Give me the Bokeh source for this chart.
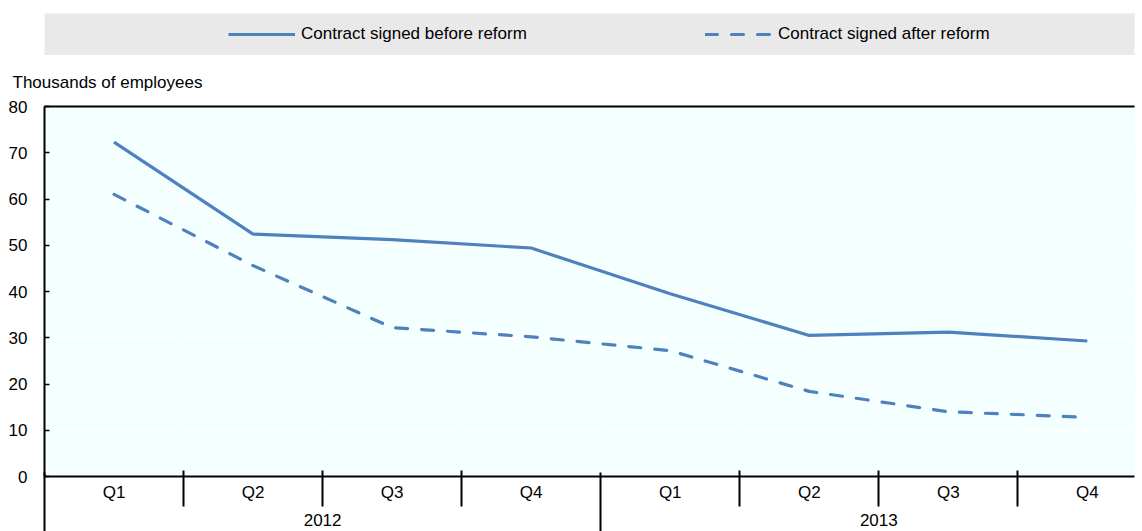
from bokeh.plotting import figure
from bokeh.models import (Range1d, LinearAxis, FixedTicker, Grid, Legend, LegendItem, Title)
from bokeh.layouts import column
from bokeh.embed import file_html
from bokeh.resources import INLINE

quarters = ["Q1", "Q2", "Q3", "Q4", "Q1", "Q2", "Q3", "Q4"]
years = ["2012", "2013"]
before_reform = [72.3, 52.4, 51.2, 49.4, 39.5, 30.5, 31.2, 29.3]
after_reform = [61.0, 45.6, 32.2, 30.2, 27.2, 18.4, 14.0, 12.8]
y_ticks = [0, 10, 20, 30, 40, 50, 60, 70, 80]

FONT = "'Liberation Sans', Arial, sans-serif"
FS = "17px"
BLUE = "#4F81BD"

n = len(quarters)
centers = [i + 0.5 for i in range(n)]
per_year = n // len(years)
quarter_bounds = [float(i) for i in range(1, n) if i % per_year != 0]
year_centers = [per_year * k + per_year / 2 for k in range(len(years))]
year_bounds = [float(per_year * k) for k in range(len(years))]

# ---------------- legend band ----------------
p0 = figure(width=1142, height=55, x_range=Range1d(0, 1), y_range=Range1d(0, 1),
            x_axis_type=None, y_axis_type=None, output_backend="svg",
            toolbar_location=None, min_border=0, min_border_left=44, min_border_right=8,
            min_border_top=13, min_border_bottom=0)
p0.background_fill_color = "#E9E9E9"
p0.outline_line_color = None
r_b = p0.line(centers, before_reform, line_color=BLUE, line_width=3.2, visible=False)
r_a = p0.line(centers, after_reform, line_color=BLUE, line_width=3.2,
              line_dash="12 14", line_cap="round", visible=False)
legend = Legend(items=[LegendItem(label="Contract signed before reform", renderers=[r_b]),
                       LegendItem(label="Contract signed after reform", renderers=[r_a])],
                location=(184, 11), orientation="horizontal", padding=0, spacing=4,
                glyph_width=67, glyph_height=20, label_standoff=6, label_width=400,
                label_height=20, background_fill_alpha=0, border_line_color=None,
                label_text_font=FONT, label_text_font_size=FS, label_text_color="#000000")
p0.add_layout(legend)

# ---------------- main plot ----------------
p = figure(width=1142, height=476, x_range=Range1d(0, 7.839), y_range=Range1d(0, 80),
           x_axis_type=None, y_axis_type=None, output_backend="svg",
           toolbar_location=None, min_border=0, min_border_left=44, min_border_right=0,
           min_border_top=50, min_border_bottom=55)
p.background_fill_color = "#F4FFFF"
p.outline_line_color = None
p.border_fill_color = "white"

p.title = Title(text="Thousands of employees", align="left", offset=-32,
                text_font=FONT, text_font_size=FS, text_font_style="normal",
                text_color="#000000", standoff=30)

p.add_layout(Grid(dimension=0, ticker=FixedTicker(ticks=[float(i) for i in range(1, n)]),
                  grid_line_color="white", grid_line_width=1.5))
p.add_layout(Grid(dimension=1, ticker=FixedTicker(ticks=y_ticks[1:-1]),
                  grid_line_color="white", grid_line_width=1.5))

p.line(centers, before_reform, line_color=BLUE, line_width=3.2)
p.line(centers, after_reform, line_color=BLUE, line_width=3.2, line_dash="12 14", line_cap="round")

yaxis = LinearAxis(ticker=FixedTicker(ticks=y_ticks), axis_line_color="black", axis_line_width=2,
                   major_tick_in=5, major_tick_out=0, major_tick_line_color="black",
                   major_tick_line_width=1.5, minor_tick_line_color=None,
                   major_label_standoff=17, major_label_text_font=FONT,
                   major_label_text_font_size=FS, major_label_text_color="#000000")
p.add_layout(yaxis, "left")

top_axis = LinearAxis(ticker=FixedTicker(ticks=[]), axis_line_color="black", axis_line_width=2,
                      major_tick_line_color=None, minor_tick_line_color=None,
                      major_label_standoff=0)
p.add_layout(top_axis, "above")

qaxis = LinearAxis(ticker=FixedTicker(ticks=centers, minor_ticks=quarter_bounds),
                   major_label_overrides={c: q for c, q in zip(centers, quarters)},
                   axis_line_color="black", axis_line_width=2,
                   major_tick_line_color=None, major_tick_in=0, major_tick_out=0,
                   minor_tick_line_color="black", minor_tick_line_width=2,
                   minor_tick_in=6, minor_tick_out=30,
                   major_label_standoff=-24, major_label_text_font=FONT,
                   major_label_text_font_size=FS, major_label_text_color="#000000")
p.add_layout(qaxis, "below")

yr_axis = LinearAxis(ticker=FixedTicker(ticks=year_centers, minor_ticks=year_bounds),
                     major_label_overrides={c: y for c, y in zip(year_centers, years)},
                     axis_line_color=None,
                     major_tick_line_color=None, major_tick_in=0, major_tick_out=0,
                     minor_tick_line_color="black", minor_tick_line_width=2,
                     minor_tick_in=32, minor_tick_out=28,
                     major_label_standoff=-19, major_label_text_font=FONT,
                     major_label_text_font_size=FS, major_label_text_color="#000000")
p.add_layout(yr_axis, "below")

layout = column(p0, p, spacing=0)
open("out.html", "w").write(file_html(layout, INLINE))
